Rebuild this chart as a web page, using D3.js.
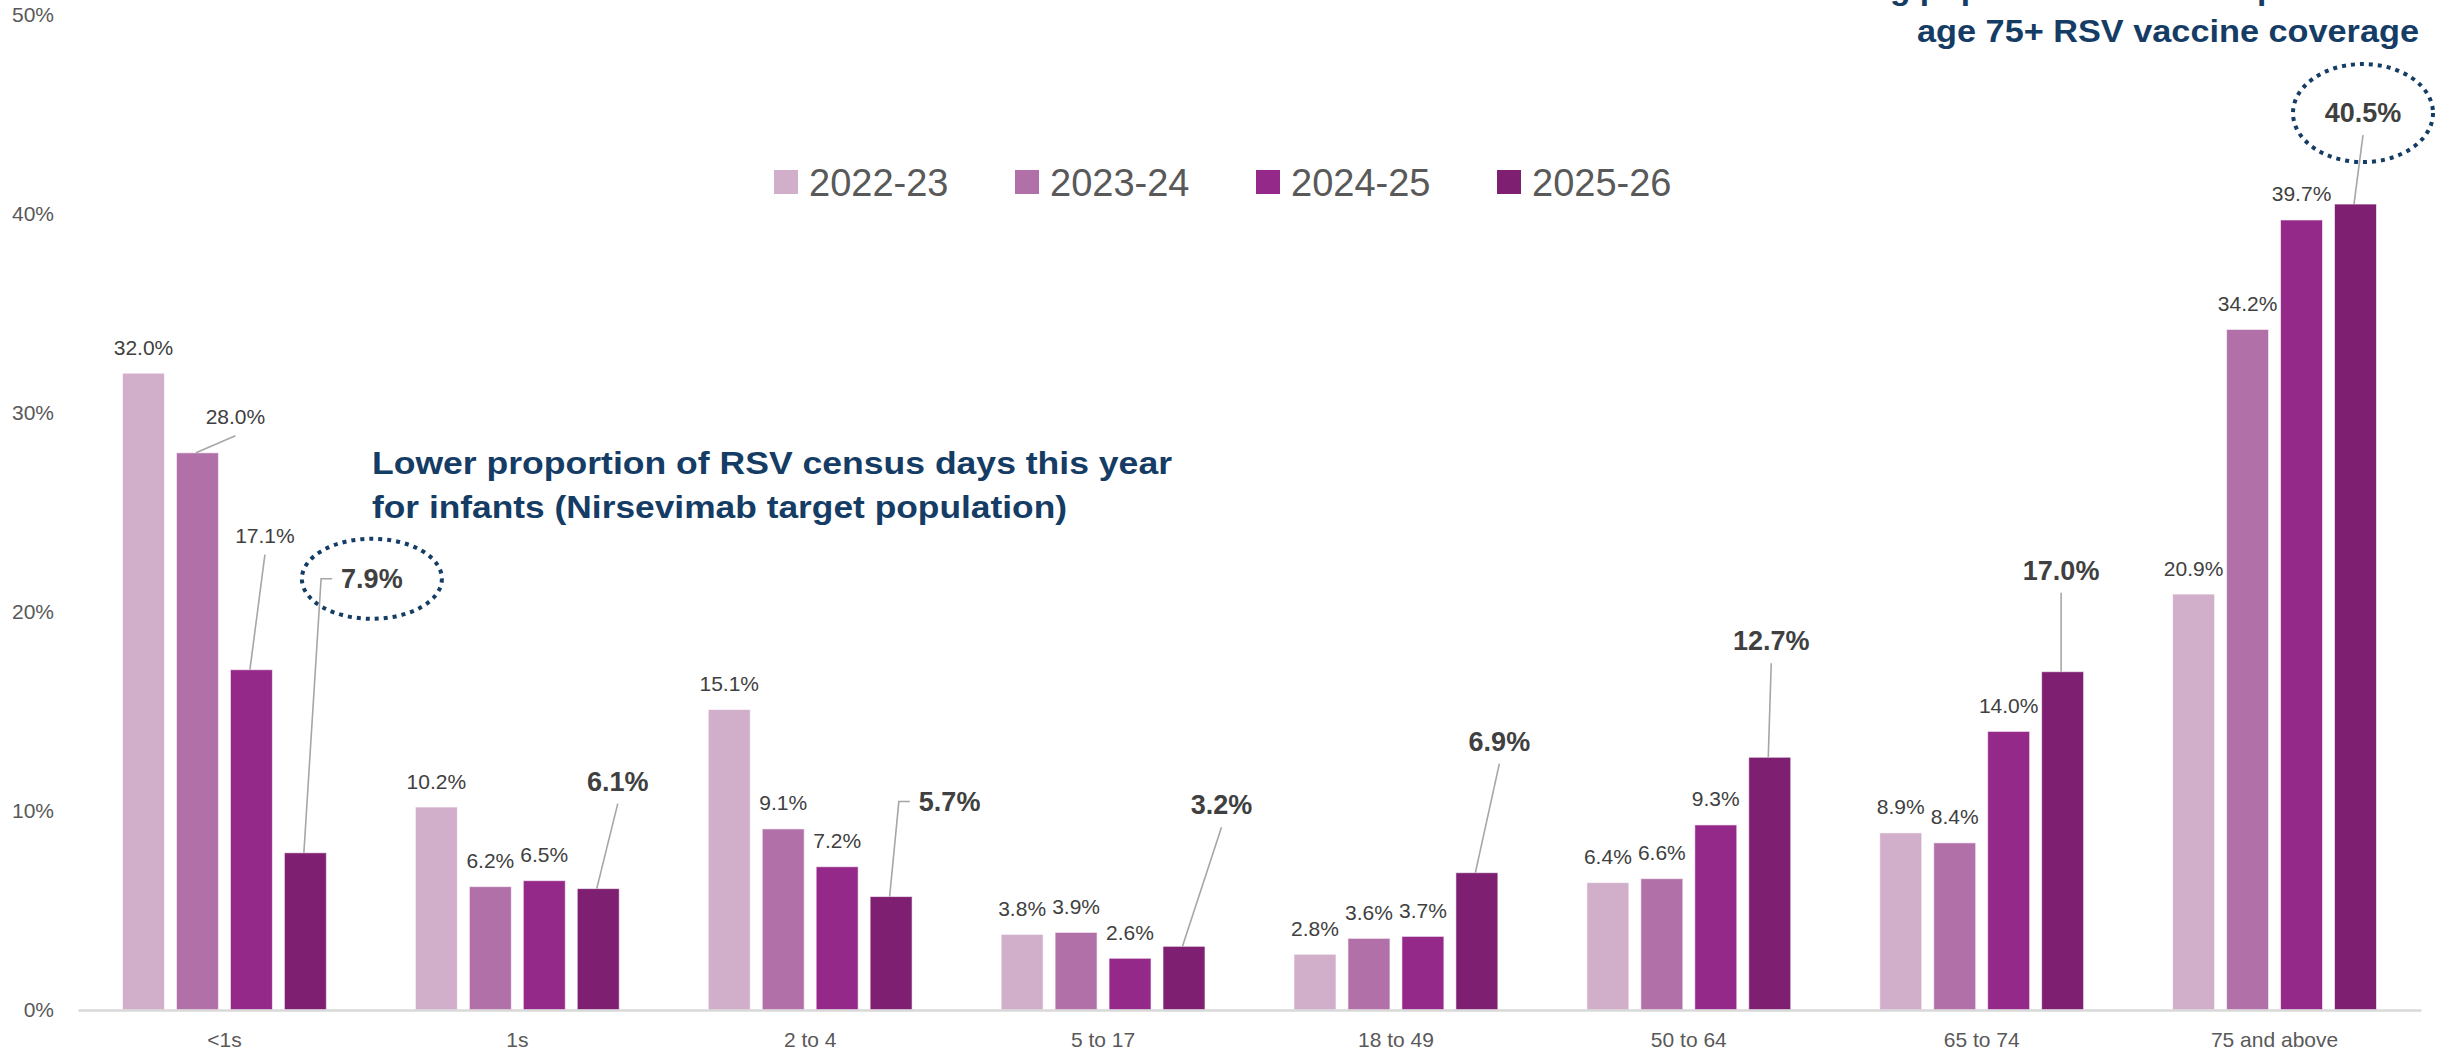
<!DOCTYPE html>
<meta charset="utf-8">
<style>
    body {margin: 0; background: #fff; font-family: "Liberation Sans", Arial, sans-serif;}
</style>
<svg width="2443" height="1051"></svg>
<script src="https://d3js.org/d3.v7.min.js"></script>
<script>
  /**
   * ----------------------------------------------------------------------------------------------
   * data
   * ----------------------------------------------------------------------------------------------
   */
  const categories = ["<1s", "1s", "2 to 4", "5 to 17", "18 to 49", "50 to 64", "65 to 74", "75 and above"];
  const seasons = ["2022-23", "2023-24", "2024-25", "2025-26"];
  const season2022 = [32.0, 10.2, 15.1, 3.8, 2.8, 6.4, 8.9, 20.9];
  const season2023 = [28.0, 6.2, 9.1, 3.9, 3.6, 6.6, 8.4, 34.2];
  const season2024 = [17.1, 6.5, 7.2, 2.6, 3.7, 9.3, 14.0, 39.7];
  const season2025 = [7.9, 6.1, 5.7, 3.2, 6.9, 12.7, 17.0, 40.5];
  const yTicks = [0, 10, 20, 30, 40, 50];

  const seriesValues = [season2022, season2023, season2024, season2025];
  const colors = ["#D1AFCA", "#B171A8", "#952989", "#7E1F71"];

  /**
   * label placement (label centre relative to bar top centre), leaders and circles
   */
  const callouts = {
    "2023-24|<1s":          {dx: 38,   dy: -36},
    "2024-25|<1s":          {dx: 13.5, dy: -134},
    "2025-26|<1s":          {dx: 66.5, dy: -274, elbow: true, ring: [70, 40]},
    "2025-26|1s":           {dx: 19.5, dy: -107},
    "2025-26|2 to 4":       {dx: 58.5, dy: -95, elbow: true},
    "2025-26|5 to 17":      {dx: 37.5, dy: -141},
    "2025-26|18 to 49":     {dx: 22.5, dy: -131},
    "2025-26|50 to 64":     {dx: 1.5,  dy: -116},
    "2025-26|65 to 74":     {dx: -1.5, dy: -101},
    "2025-26|75 and above": {dx: 7.5,  dy: -91, ring: [70, 49]}
  };

  /**
   *-----------------------------------------------------------------------------------------------
   * setup
   *-----------------------------------------------------------------------------------------------
   **/
  const width = 2443, height = 1051;
  const svg = d3.select("svg").attr("width", width).attr("height", height);

  const x0 = d3.scaleBand()
    .domain(categories)
    .range([78, 2421])
    .paddingInner(0.304)
    .paddingOuter(0.152);

  const x1 = d3.scaleBand()
    .domain(seasons)
    .range([0, x0.bandwidth()])
    .paddingInner(0.222);

  const y = d3.scaleLinear().domain([0, 50]).range([1010, 15]);

  const rows = [];
  seasons.forEach(function(s, si) {
    categories.forEach(function(c, ci) {
      rows.push({season: s, si: si, cat: c, value: seriesValues[si][ci]});
    });
  });

  /**------------------------------------------------------------------------
   * axes
   **----------------------------------------------------------------------**/
  const yAxis = svg.append("g")
    .attr("transform", "translate(78,0)")
    .call(d3.axisLeft(y).tickValues(yTicks).tickSize(0).tickPadding(24)
      .tickFormat(function(d) { return d + "%"; }));
  yAxis.select(".domain").remove();
  yAxis.selectAll("text")
    .style("font-size", "21px")
    .style("font-family", "Liberation Sans, Arial, sans-serif")
    .attr("fill", "#595959");

  /**------------------------------------------------------------------------
   * bars
   **----------------------------------------------------------------------**/
  svg.append("g").selectAll("rect")
    .data(rows)
    .enter().append("rect")
      .attr("x", function(d) { return x0(d.cat) + x1(d.season); })
      .attr("y", function(d) { return y(d.value); })
      .attr("width", x1.bandwidth())
      .attr("height", function(d) { return y(0) - y(d.value); })
      .attr("fill", function(d) { return colors[d.si]; })
      .attr("stroke", "#ffffff")
      .attr("stroke-opacity", 0.6)
      .attr("stroke-width", 1);

  const xAxis = svg.append("g")
    .attr("transform", "translate(0," + y(0) + ")")
    .call(d3.axisBottom(x0).tickSize(0).tickSizeOuter(0).tickPadding(22));
  xAxis.select(".domain").attr("stroke", "#D9D9D9").attr("stroke-width", 2.5);
  xAxis.selectAll("text")
    .style("font-size", "21px")
    .style("font-family", "Liberation Sans, Arial, sans-serif")
    .attr("fill", "#595959");

  /**------------------------------------------------------------------------
   * data labels, leaders, rings
   **----------------------------------------------------------------------**/
  const labelG = svg.append("g");
  rows.forEach(function(d) {
    const cx = x0(d.cat) + x1(d.season) + x1.bandwidth() / 2;
    const top = y(d.value);
    const co = callouts[d.season + "|" + d.cat] || {dx: 0, dy: -26};
    const bold = d.season === "2025-26";
    const lx = cx + co.dx, ly = top + co.dy;
    const txt = d.value.toFixed(1) + "%";

    if (co.ring) {
      labelG.append("ellipse")
        .attr("cx", lx).attr("cy", ly)
        .attr("rx", co.ring[0]).attr("ry", co.ring[1])
        .attr("fill", "none")
        .attr("stroke", "#153C64")
        .attr("stroke-width", 4)
        .attr("stroke-dasharray", "4 5");
    }

    const t = labelG.append("text")
      .attr("x", lx).attr("y", ly)
      .attr("text-anchor", "middle")
      .attr("dominant-baseline", "central")
      .attr("fill", "#404040")
      .style("font-size", bold ? "27px" : "21px")
      .style("font-weight", bold ? "bold" : "normal")
      .text(txt);

    if (co.dx !== 0 || co.dy !== -26) {
      let pts;
      if (co.elbow) {
        const left = lx - t.node().getComputedTextLength() / 2;
        pts = [[left - 9, ly], [left - 20, ly], [cx - 1.5, top]];
      } else {
        pts = [[lx, ly + (bold ? 22 : 19)], [cx - 1.5, top]];
      }
      labelG.append("path")
        .attr("d", d3.line()(pts))
        .attr("fill", "none")
        .attr("stroke", "#A6A6A6")
        .attr("stroke-width", 1.6);
    }
  });

  /**------------------------------------------------------------------------
   * legend
   **----------------------------------------------------------------------**/
  const legend = svg.append("g").selectAll("g")
    .data(seasons)
    .enter().append("g")
      .attr("transform", function(d, i) { return "translate(" + (774 + i * 241) + ",170)"; });
  legend.append("rect")
    .attr("width", 24).attr("height", 24)
    .attr("fill", function(d, i) { return colors[i]; });
  legend.append("text")
    .attr("x", 35).attr("y", 26)
    .attr("fill", "#595959")
    .style("font-size", "38px")
    .text(function(d) { return d; });

  /**------------------------------------------------------------------------
   * annotations (first line of the top-right note runs off the top edge)
   **----------------------------------------------------------------------**/
  const notes = [
    {text: "Lower proportion of RSV census days this year", x: 372, y: 474, len: 800, anchor: "start"},
    {text: "for infants (Nirsevimab target population)", x: 372, y: 518, len: 695, anchor: "start"},
    {text: "Rising population share despite better", x: 2419, y: -1, len: 611, anchor: "end"},
    {text: "age 75+ RSV vaccine coverage", x: 2419, y: 42, len: 502, anchor: "end"}
  ];
  svg.append("g").selectAll("text")
    .data(notes)
    .enter().append("text")
      .attr("x", function(d) { return d.x; })
      .attr("y", function(d) { return d.y; })
      .attr("text-anchor", function(d) { return d.anchor; })
      .attr("textLength", function(d) { return d.len; })
      .attr("lengthAdjust", "spacingAndGlyphs")
      .attr("fill", "#153C64")
      .style("font-size", "31px")
      .style("font-weight", "bold")
      .text(function(d) { return d.text; });
</script>
